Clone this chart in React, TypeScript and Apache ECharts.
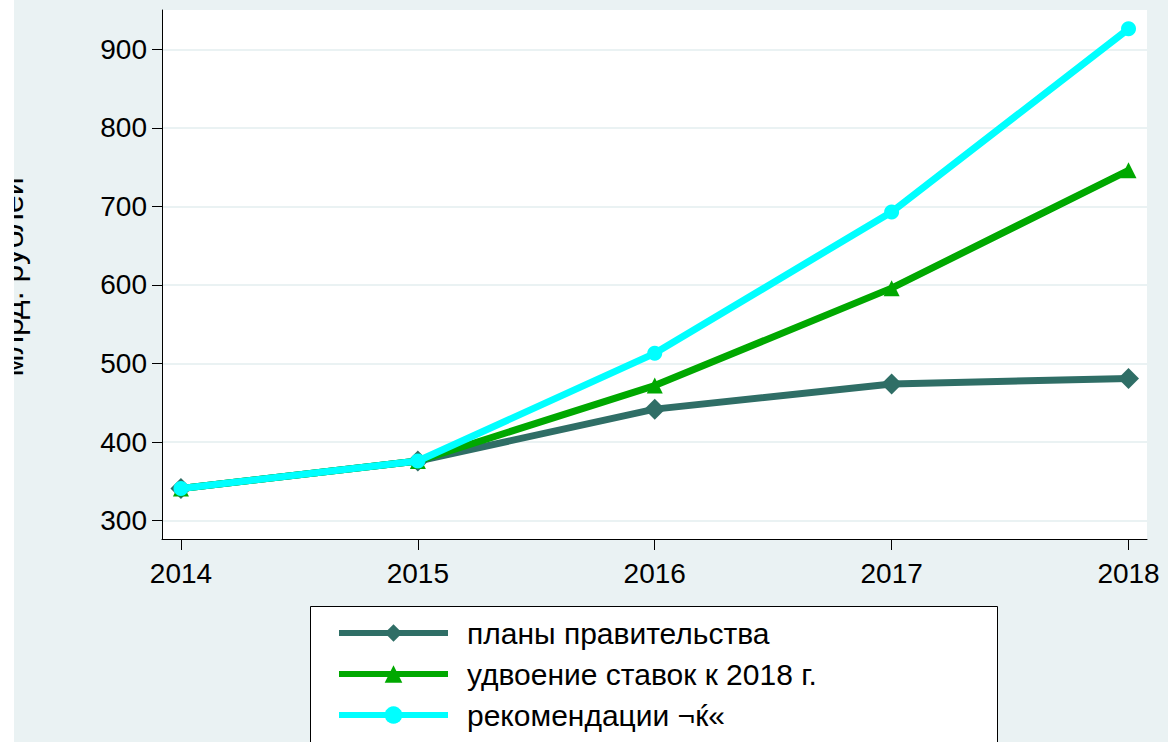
import React, { useEffect, useRef } from "react";
import * as echarts from "echarts";

const years = [2014, 2015, 2016, 2017, 2018];
const seriesNames = [
  "планы правительства",
  "удвоение ставок к 2018 г.",
  "рекомендации ¬ќ«",
];
const plans = [341, 376, 442, 474, 481];
const doubling = [341, 376, 472, 596, 746];
const recommend = [341, 376, 513, 693, 926];
const yTicks = [300, 400, 500, 600, 700, 800, 900];
const yAxisTitle = "млрд. рублей";

const FONT = "'Liberation Sans', Arial, sans-serif";
const BG = "#eaf2f3";
const colors = ["#2f6e66", "#00a800", "#00ffff"];
const symbols = ["diamond", "triangle", "circle"];
const symbolSizes = [21, 16, 15];

export default function App() {
  const ref = useRef<HTMLDivElement>(null);
  useEffect(() => {
    if (!ref.current) return;
    const chart = echarts.init(ref.current, undefined, { renderer: "svg" });
    const values = [plans, doubling, recommend];
    const option = {
      animation: false,
      backgroundColor: BG,
      textStyle: { fontFamily: FONT },
      grid: {
        left: 162,
        right: 21,
        top: 10,
        bottom: 203,
        show: true,
        backgroundColor: "#ffffff",
        borderWidth: 0,
      },
      xAxis: {
        type: "value",
        min: 2013.92,
        max: 2018.078,
        axisLine: { show: true, onZero: false, lineStyle: { color: "#000", width: 1 } },
        axisTick: { show: true, length: 11, customValues: years, lineStyle: { color: "#000" } },
        axisLabel: {
          customValues: years,
          fontSize: 28,
          color: "#000",
          margin: 20,
          fontFamily: FONT,
          formatter: (v: number) => String(v),
        },
        splitLine: { show: false },
      },
      yAxis: {
        type: "value",
        min: 276.7,
        max: 950,
        axisLine: { show: true, onZero: false, lineStyle: { color: "#000", width: 1 } },
        axisTick: { show: true, length: 10, customValues: yTicks, lineStyle: { color: "#000" } },
        axisLabel: {
          customValues: yTicks,
          fontSize: 28,
          color: "#000",
          margin: 15,
          fontFamily: FONT,
          formatter: (v: number) => String(v),
        },
        splitLine: { show: true, lineStyle: { color: BG, width: 2 } },
      },
      legend: seriesNames.map((n, i) => ({
        data: [n],
        orient: "vertical",
        left: 331,
        top: 613 + i * 41,
        itemWidth: 109,
        itemHeight: 22,
        selectedMode: false,
        lineStyle: { width: 6 },
        textStyle: { fontSize: 30, color: "#000", fontFamily: FONT, padding: [0, 0, 0, 14] },
      })),
      series: seriesNames.map((n, i) => ({
        name: n,
        type: "line",
        data: years.map((y, j) => [y, values[i][j]]),
        symbol: symbols[i],
        symbolSize: symbolSizes[i],
        showSymbol: true,
        lineStyle: { width: 7, color: colors[i] },
        itemStyle: { color: colors[i] },
        z: 2 + i,
      })),
      graphic: [
        {
          type: "rect",
          z: 1,
          shape: { x: 310.5, y: 606.5, width: 687, height: 150 },
          style: { fill: "#ffffff", stroke: "#000", lineWidth: 1 },
        },
        {
          type: "text",
          z: 1,
          x: 11.5,
          y: 277,
          rotation: Math.PI / 2,
          style: {
            text: yAxisTitle,
            fontSize: 32,
            fill: "#000",
            align: "center",
            verticalAlign: "middle",
            fontFamily: FONT,
          },
        },
        {
          type: "rect",
          z: 20,
          shape: { x: 0, y: 0, width: 14, height: 742 },
          style: { fill: "#ffffff" },
        },
      ],
    };
    chart.setOption(option as any);
    return () => chart.dispose();
  }, []);
  return (
    <div
      ref={ref}
      style={{ position: "fixed", left: 0, top: 0, width: 1168, height: 742 }}
    />
  );
}
